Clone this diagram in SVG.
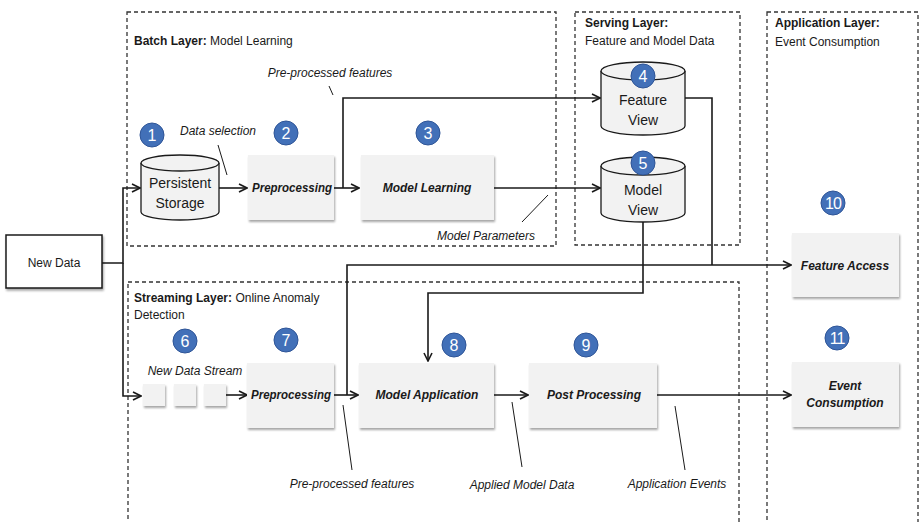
<svg xmlns="http://www.w3.org/2000/svg" width="920" height="522" viewBox="0 0 920 522">
<defs>
<marker id="arr" viewBox="0 0 10 10" refX="9" refY="5" markerWidth="10" markerHeight="10" markerUnits="userSpaceOnUse" orient="auto">
<path d="M1,1 L9,5 L1,9" fill="none" stroke="#1a1a1a" stroke-width="1.6"/>
</marker>
<filter id="sh" x="-10%" y="-10%" width="125%" height="130%">
<feDropShadow dx="1" dy="2" stdDeviation="1" flood-color="#000" flood-opacity="0.35"/>
</filter>
</defs>
<style>
.layer{fill:none;stroke:#333;stroke-width:1.3;stroke-dasharray:4 3}
.box{fill:#f2f2f2;filter:url(#sh)}
.cyl{fill:#f2f2f2;stroke:#1a1a1a;stroke-width:1.3}
.con{fill:none;stroke:#1a1a1a;stroke-width:1.6}
.lead{fill:none;stroke:#1a1a1a;stroke-width:1}
.badge{fill:#4270b8;stroke:#2f5597;stroke-width:1}
.bt{font-family:"Liberation Sans",Arial,sans-serif;font-size:16px;fill:#fff;text-anchor:middle}
.t{font-family:"Liberation Sans",Arial,sans-serif;font-size:12px;fill:#1a1a1a}
.tb{font-weight:bold}
.lbl{font-family:"Liberation Sans",Arial,sans-serif;font-size:12px;font-style:italic;fill:#1a1a1a;text-anchor:middle}
.nt{font-family:"Liberation Sans",Arial,sans-serif;font-size:12px;font-style:italic;font-weight:bold;fill:#1a1a1a;text-anchor:middle}
.ct{font-family:"Liberation Sans",Arial,sans-serif;font-size:14px;fill:#1a1a1a;text-anchor:middle}
</style>

<g id="layers">
<rect class="layer" x="127" y="12" width="429" height="234"/>
<text class="t" x="134" y="45"><tspan class="tb">Batch Layer:</tspan> Model Learning</text>
<rect class="layer" x="575" y="12" width="165" height="233"/>
<text class="t tb" x="585" y="27">Serving Layer:</text>
<text class="t" x="585" y="45">Feature and Model Data</text>
<rect class="layer" x="767" y="12" width="151" height="530"/>
<text class="t tb" x="775" y="27">Application Layer:</text>
<text class="t" x="775" y="46">Event Consumption</text>
<rect class="layer" x="128" y="282" width="611" height="260"/>
<text class="t" x="134" y="302"><tspan class="tb">Streaming Layer:</tspan> Online Anomaly</text>
<text class="t" x="134" y="319">Detection</text>
</g>

<g id="connectors">
<path class="con" d="M102,263 H123 V188 H140" marker-end="url(#arr)"/>
<path class="con" d="M123,263 V396 H141" marker-end="url(#arr)"/>
<path class="con" d="M219,188 H247" marker-end="url(#arr)"/>
<path class="con" d="M334,188 H359" marker-end="url(#arr)"/>
<path class="con" d="M343,188 V98 H600" marker-end="url(#arr)"/>
<path class="con" d="M494,188 H600" marker-end="url(#arr)"/>
<path class="con" d="M685,98 H712 V265"/>
<path class="con" d="M643,222 V293 H428 V361" marker-end="url(#arr)"/>
<path class="con" d="M226,395 H247" marker-end="url(#arr)"/>
<path class="con" d="M334,395 H358" marker-end="url(#arr)"/>
<path class="con" d="M347,395 V265 H791" marker-end="url(#arr)"/>
<path class="con" d="M494,395 H528" marker-end="url(#arr)"/>
<path class="con" d="M657,395 H791" marker-end="url(#arr)"/>
<path class="lead" d="M218,145 L227,175"/>
<path class="lead" d="M329,86 L333,95"/>
<path class="lead" d="M522,222 L548,195"/>
<path class="lead" d="M343,405 L352,470"/>
<path class="lead" d="M512,402 L522,467"/>
<path class="lead" d="M675,406 L685,470"/>
<text class="lbl" x="218" y="135">Data selection</text>
<text class="lbl" x="330" y="77">Pre-processed features</text>
<text class="lbl" x="486" y="240">Model Parameters</text>
<text class="lbl" x="195" y="375">New Data Stream</text>
<text class="lbl" x="352" y="488">Pre-processed features</text>
<text class="lbl" x="522" y="489">Applied Model Data</text>
<text class="lbl" x="677" y="488">Application Events</text>
</g>

<g id="new-data">
<rect x="6" y="235" width="96" height="53" fill="#fff" stroke="#1a1a1a" stroke-width="1.5" filter="url(#sh)"/>
<text class="t" x="54" y="267" text-anchor="middle" font-size="13">New Data</text>
</g>

<g id="n1">
<path class="cyl" d="M141,163 V212 A39,8 0 0 0 219,212 V163"/>
<ellipse class="cyl" cx="180" cy="163" rx="39" ry="8"/>
<text class="ct" x="180" y="188">Persistent</text>
<text class="ct" x="180" y="208">Storage</text>
<circle class="badge" cx="152" cy="135" r="12"/><text class="bt" x="152" y="141">1</text>
</g>

<g id="n2">
<rect class="box" x="248" y="155" width="86" height="65"/>
<text class="nt" x="292" y="192" textLength="80" lengthAdjust="spacingAndGlyphs">Preprocessing</text>
<circle class="badge" cx="286" cy="133" r="12"/><text class="bt" x="286" y="139">2</text>
</g>

<g id="n3">
<rect class="box" x="361" y="155" width="133" height="65"/>
<text class="nt" x="427" y="192">Model Learning</text>
<circle class="badge" cx="428" cy="133" r="12"/><text class="bt" x="428" y="139">3</text>
</g>

<g id="n4">
<path class="cyl" d="M601,71 V126 A42,9 0 0 0 685,126 V71"/>
<ellipse class="cyl" cx="643" cy="71" rx="42" ry="9"/>
<text class="ct" x="643" y="105">Feature</text>
<text class="ct" x="643" y="125">View</text>
<circle class="badge" cx="643" cy="76" r="12"/><text class="bt" x="643" y="82">4</text>
</g>

<g id="n5">
<path class="cyl" d="M601,166 V213 A42,9 0 0 0 685,213 V166"/>
<ellipse class="cyl" cx="643" cy="166" rx="42" ry="9"/>
<text class="ct" x="643" y="195">Model</text>
<text class="ct" x="643" y="215">View</text>
<circle class="badge" cx="643" cy="163" r="12"/><text class="bt" x="643" y="169">5</text>
</g>

<g id="n6">
<rect class="box" x="143" y="384" width="22" height="22"/>
<rect class="box" x="174" y="384" width="22" height="22"/>
<rect class="box" x="204" y="384" width="22" height="22"/>
<circle class="badge" cx="185" cy="341" r="12"/><text class="bt" x="185" y="347">6</text>
</g>

<g id="n7">
<rect class="box" x="247" y="363" width="87" height="65"/>
<text class="nt" x="291" y="399" textLength="80" lengthAdjust="spacingAndGlyphs">Preprocessing</text>
<circle class="badge" cx="286" cy="340" r="12"/><text class="bt" x="286" y="346">7</text>
</g>

<g id="n8">
<rect class="box" x="359" y="363" width="135" height="65"/>
<text class="nt" x="427" y="399">Model Application</text>
<circle class="badge" cx="454" cy="345" r="12"/><text class="bt" x="454" y="351">8</text>
</g>

<g id="n9">
<rect class="box" x="529" y="363" width="128" height="65"/>
<text class="nt" x="594" y="399">Post Processing</text>
<circle class="badge" cx="586" cy="345" r="12"/><text class="bt" x="586" y="351">9</text>
</g>

<g id="n10">
<rect class="box" x="792" y="233" width="107" height="64"/>
<text class="nt" x="845" y="270">Feature Access</text>
<circle class="badge" cx="833" cy="203" r="12"/><text class="bt" x="833" y="209" letter-spacing="-1">10</text>
</g>

<g id="n11">
<rect class="box" x="792" y="362" width="107" height="65"/>
<text class="nt" x="845" y="390">Event</text>
<text class="nt" x="845" y="407">Consumption</text>
<circle class="badge" cx="837" cy="338" r="12"/><text class="bt" x="837" y="344" letter-spacing="-1">11</text>
</g>
</svg>
